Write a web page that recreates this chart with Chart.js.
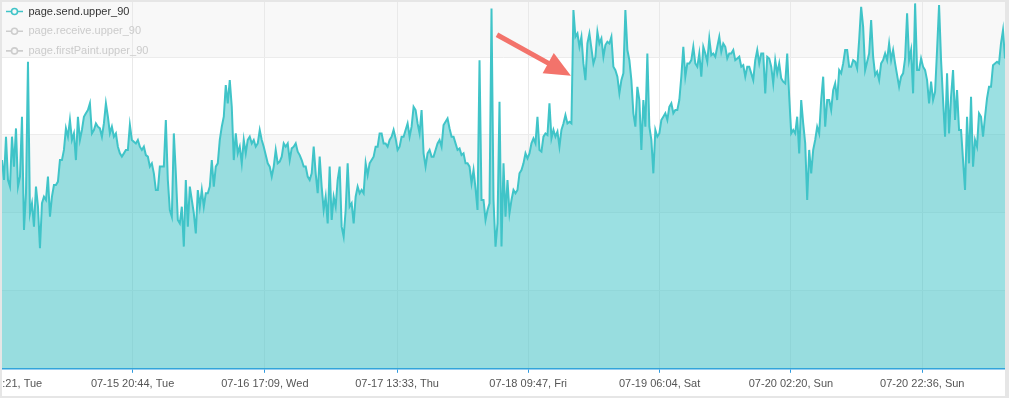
<!DOCTYPE html>
<html>
<head>
<meta charset="utf-8">
<script src="https://cdn.jsdelivr.net/npm/chart.js@4"></script>
<style>
  html, body { margin: 0; padding: 0; background: #e6e6e6; }
  #frame { position: absolute; left: 2px; top: 2px; width: 1003px; height: 394px; background: #fff; }
</style>
</head>
<body>
<div id="frame"><canvas id="sendChart"></canvas></div>
<script>
// legend entries (only the first one is switched on)
const seriesNames = ["page.send.upper_90", "page.receive.upper_90", "page.firstPaint.upper_90"];

// x-axis tick labels
const tickLabels = [
  "07-15 00:21, Tue", "07-15 20:44, Tue", "07-16 17:09, Wed", "07-17 13:33, Thu",
  "07-18 09:47, Fri", "07-19 06:04, Sat", "07-20 02:20, Sun", "07-20 22:36, Sun",
];

// sampling: minutes after 07-15 00:00
const firstSampleMinute = 35;
const sampleStepMinutes = 18.5;

// page.send.upper_90 (ms)
const sendUpper90 = [
  1339, 1211, 1489, 1211, 1169, 1489, 1297, 1542, 1169, 1233, 1617, 891, 1126, 1970, 998, 1062, 912,
  1169, 1040, 773, 1062, 1104, 1083, 1233, 976, 1104, 1179, 1179, 1201, 1339, 1339, 1404, 1542, 1489,
  1596, 1468, 1510, 1339, 1617, 1468, 1532, 1617, 1639, 1660, 1703, 1510, 1532, 1574, 1553, 1542, 1489,
  1574, 1703, 1617, 1510, 1553, 1489, 1510, 1425, 1382, 1361, 1382, 1404, 1404, 1564, 1468, 1457, 1446,
  1468, 1425, 1404, 1425, 1371, 1361, 1297, 1318, 1254, 1147, 1147, 1297, 1297, 1297, 1596, 1211, 1019,
  976, 1510, 1254, 955, 933, 1040, 784, 1211, 912, 1169, 1083, 998, 869, 1147, 1040, 1147,
  1040, 1126, 1126, 1169, 1339, 1169, 1297, 1318, 1468, 1553, 1617, 1820, 1703, 1852, 1681, 1339, 1510,
  1382, 1425, 1318, 1468, 1382, 1468, 1489, 1446, 1468, 1425, 1446, 1532, 1468, 1425, 1371, 1318, 1297,
  1233, 1297, 1404, 1318, 1329, 1361, 1446, 1425, 1446, 1339, 1414, 1425, 1446, 1393, 1371, 1339, 1297,
  1297, 1233, 1211, 1254, 1425, 1254, 1126, 1361, 1169, 1019, 1104, 933, 1297, 955, 1104, 1040, 1211,
  1297, 912, 848, 1019, 1318, 1040, 1062, 933, 1104, 1169, 1126, 1147, 1126, 1318, 1243, 1318, 1339,
  1361, 1425, 1425, 1510, 1510, 1446, 1446, 1425, 1468, 1489, 1532, 1478, 1404, 1425, 1489,
  1489, 1532, 1574, 1489, 1553, 1681, 1660, 1574, 1510, 1660, 1382, 1297, 1382, 1404, 1361, 1361, 1404,
  1446, 1468, 1425, 1564, 1585, 1606, 1542, 1489, 1489, 1446, 1404, 1414, 1371, 1382, 1318, 1318, 1297,
  1190, 1275, 1158, 1019, 1980, 1083, 1083, 955, 1019, 1062, 2312, 1083, 784, 933, 1713, 784, 1318,
  976, 1211, 998, 1083, 1147, 1126, 1147, 1254, 1275, 1318, 1382, 1350, 1382, 1446, 1478, 1446, 1617,
  1404, 1393, 1489, 1510, 1500, 1703, 1478, 1532, 1489, 1521, 1425, 1532, 1574, 1628, 1574, 1585, 1574,
  2301, 2130, 2151, 2066, 2130, 1959, 1852, 2087, 2151, 2055, 1959, 2002, 2162, 2087, 2119,
  2002, 2077, 2098, 2087, 2130, 1938, 1916, 1874, 1767, 1852, 1895, 2301, 2045, 1980, 1852, 1639, 1553,
  1809, 1724, 1404, 1724, 1553, 2023, 1553, 1468, 1254, 1532, 1489, 1510, 1596, 1617, 1639, 1596, 1681,
  1703, 1639, 1660, 1660, 1724, 1874, 2066, 1874, 1959, 1959, 1980, 2066, 1959, 1938, 2023, 1874, 2066,
  2023, 1970, 2119, 2012, 2023, 2002, 2066, 2130, 2034, 2087, 2066, 1991, 2023, 2023, 2045, 1980, 1991,
  2002, 1938, 1948, 1874, 1938, 1938, 1895, 1852, 1980, 2045, 1959, 2023, 2023, 1767, 2002, 1991, 1938,
  1831, 1980, 1895, 1959, 1863, 1842, 1831, 2023, 1745, 1510, 1532, 1510, 1617, 1382, 1724,
  1574, 1446, 1083, 1404, 1254, 1404, 1468, 1553, 1510, 1724, 1874, 1553, 1724, 1724, 1660, 1788, 1831,
  1724, 1916, 1895, 1959, 2045, 2045, 1938, 1938, 1980, 1970, 1927, 2109, 2322, 2194, 1916, 1970, 2023,
  2237, 2002, 1884, 1906, 1852, 1959, 1980, 2023, 1980, 2087, 1980, 2045, 1959, 1884, 1809, 1874, 1895,
  1991, 2280, 1980, 2045, 1767, 2344, 1916, 1916, 1991, 1938, 1916, 1852, 1703, 1842, 1724, 1777, 2045,
  2333, 1980, 1724, 1489, 1895, 1510, 1745, 1916, 1596, 1788, 1532, 1532, 1339, 1147, 1617, 1318, 1745,
  1297, 1468, 1425, 1639, 1617, 1489, 1617, 1735, 1809, 1809, 1948, 1959, 1970, 1959, 2087, 2173, 1991,
];

// the step the arrow points at
const arrowTip = { minute: 5303, value: 1880 };

const lineColor = "#40c4c8";
const fillColor = "rgba(64, 196, 200, 0.52)";
const axisBlue = "#2f9be0";
const yMax = 2353;
const yStep = 500;

// "MM-DD HH:mm, Ddd" -> minutes after 07-15 00:00
const toMinute = (label) => {
  const [date, time] = label.split(",")[0].split(" ");
  const day = parseInt(date.split("-")[1], 10);
  const [h, m] = time.split(":").map(Number);
  return (day - 15) * 1440 + h * 60 + m;
};
const tickMinutes = tickLabels.map(toMinute);

const points = sendUpper90.map((v, i) => ({ x: firstSampleMinute + i * sampleStepMinutes, y: v }));

// alternating horizontal bands behind the plot
const bandPlugin = {
  id: "bands",
  beforeDraw(chart) {
    const { ctx, chartArea: a, scales: { y } } = chart;
    ctx.save();
    ctx.fillStyle = "#f8f8f8";
    for (let v = 0, k = 0; v < y.max; v += yStep, k++) {
      if (k % 2) continue;
      const y0 = y.getPixelForValue(v);
      const y1 = y.getPixelForValue(Math.min(v + yStep, y.max));
      ctx.fillRect(a.left, y1, a.right - a.left, y0 - y1);
    }
    ctx.restore();
  },
};

// legend drawn over the plot, top left
const legendPlugin = {
  id: "overlayLegend",
  afterDraw(chart) {
    const { ctx, chartArea: a } = chart;
    ctx.save();
    ctx.font = "11px 'Liberation Sans', Arial, sans-serif";
    ctx.textBaseline = "middle";
    seriesNames.forEach((name, i) => {
      const y = a.top + 9.5 + i * 19.7;
      const color = i === 0 ? lineColor : "#cdcdcd";
      ctx.strokeStyle = color;
      ctx.lineWidth = 1.6;
      ctx.beginPath();
      ctx.moveTo(a.left + 4, y);
      ctx.lineTo(a.left + 9, y);
      ctx.moveTo(a.left + 16, y);
      ctx.lineTo(a.left + 21, y);
      ctx.stroke();
      ctx.beginPath();
      ctx.arc(a.left + 12.5, y, 3, 0, Math.PI * 2);
      ctx.stroke();
      ctx.fillStyle = i === 0 ? "#333" : "#cbcbcb";
      ctx.fillText(name, a.left + 26.5, y);
    });
    ctx.restore();
  },
};

// red arrow pointing at the step
const arrowPlugin = {
  id: "arrow",
  afterDraw(chart) {
    const { ctx, scales: { x, y } } = chart;
    const tx = x.getPixelForValue(arrowTip.minute);
    const ty = y.getPixelForValue(arrowTip.value);
    const sx = tx - 74, sy = ty - 41;
    const ang = Math.atan2(ty - sy, tx - sx);
    const headLen = 26, headHalf = 11.5;
    const bx = tx - headLen * Math.cos(ang), by = ty - headLen * Math.sin(ang);
    ctx.save();
    ctx.strokeStyle = "#f3736b";
    ctx.fillStyle = "#f3736b";
    ctx.lineWidth = 5;
    ctx.beginPath();
    ctx.moveTo(sx, sy);
    ctx.lineTo(bx + 2 * Math.cos(ang), by + 2 * Math.sin(ang));
    ctx.stroke();
    ctx.beginPath();
    ctx.moveTo(tx, ty);
    ctx.lineTo(bx + headHalf * Math.sin(ang), by - headHalf * Math.cos(ang));
    ctx.lineTo(bx - headHalf * Math.sin(ang), by + headHalf * Math.cos(ang));
    ctx.closePath();
    ctx.fill();
    ctx.restore();
  },
};

const ctx = document.getElementById("sendChart").getContext("2d");
new Chart(ctx, {
  type: "line",
  data: {
    datasets: [
      {
        label: seriesNames[0],
        data: points,
        borderColor: lineColor,
        backgroundColor: fillColor,
        borderWidth: 2,
        pointRadius: 0,
        tension: 0,
        fill: "origin",
      },
    ],
  },
  options: {
    responsive: true,
    maintainAspectRatio: false,
    animation: false,
    layout: { padding: 0 },
    plugins: {
      legend: { display: false },
      tooltip: { enabled: false },
    },
    scales: {
      x: {
        type: "linear",
        min: points[0].x,
        max: points[points.length - 1].x,
        afterBuildTicks: (scale) => {
          scale.ticks = tickMinutes.map((v) => ({ value: v }));
        },
        afterFit: (scale) => {
          scale.paddingLeft = 0;
          scale.paddingRight = 0;
        },
        ticks: {
          autoSkip: false,
          maxRotation: 0,
          padding: 5,
          color: "#555",
          font: { family: "'Liberation Sans', Arial, sans-serif", size: 11 },
          callback: (value, index) => tickLabels[index],
        },
        grid: { color: "#e9e9e9", tickColor: axisBlue, tickLength: 4 },
        border: { color: axisBlue, width: 1.5 },
      },
      y: {
        min: 0,
        max: yMax,
        afterBuildTicks: (scale) => {
          const ticks = [];
          for (let v = 0; v < yMax; v += yStep) ticks.push({ value: v });
          scale.ticks = ticks;
        },
        afterFit: (scale) => {
          scale.width = 0;
        },
        ticks: { display: false },
        grid: { color: "#ececec", drawTicks: false },
        border: { display: false },
      },
    },
  },
  plugins: [bandPlugin, legendPlugin, arrowPlugin],
});
</script>
</body>
</html>
